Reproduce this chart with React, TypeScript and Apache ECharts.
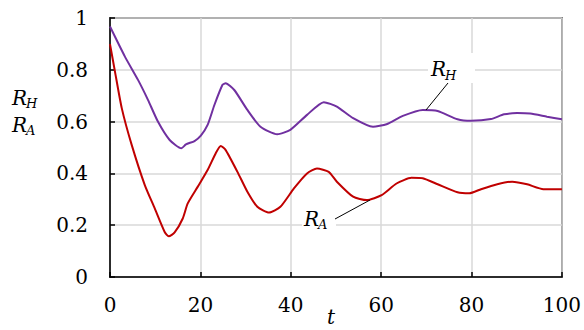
import React, { useEffect, useRef } from "react";
import * as echarts from "echarts";

const tH = [0, 3.3, 6.2, 8.4, 10.6, 13.2, 15.8, 16.8, 18.7, 20.1, 21.6, 23.1, 24.9, 25.6, 27.5, 30.4, 33.3, 37.0, 39.9, 43.6, 47.3, 50.2, 53.8, 58.2, 61.2, 64.8, 69.2, 72.5, 76.9, 79.9, 84.3, 87.2, 90.1, 93, 96.7, 100];
const rH = [0.967, 0.851, 0.761, 0.684, 0.600, 0.529, 0.497, 0.512, 0.525, 0.546, 0.587, 0.664, 0.742, 0.748, 0.722, 0.645, 0.580, 0.551, 0.568, 0.626, 0.675, 0.658, 0.613, 0.580, 0.590, 0.622, 0.645, 0.641, 0.609, 0.603, 0.610, 0.628, 0.633, 0.631, 0.619, 0.609];
const tA = [0, 1.1, 2.6, 4.8, 7.7, 9.9, 12.1, 13.0, 14.3, 16.1, 17.2, 19.4, 21.6, 23.4, 24.5, 25.6, 28.2, 30.4, 32.6, 35.2, 37.7, 40.7, 43.6, 45.8, 48.4, 50.2, 53.8, 56.8, 60.1, 63.4, 66.7, 69.2, 72.5, 76.9, 79.5, 82.1, 85.7, 89, 92.3, 95.9, 100];
const rA = [0.899, 0.793, 0.652, 0.510, 0.355, 0.265, 0.174, 0.157, 0.172, 0.226, 0.284, 0.348, 0.413, 0.478, 0.506, 0.490, 0.406, 0.329, 0.271, 0.249, 0.271, 0.342, 0.400, 0.419, 0.406, 0.368, 0.310, 0.297, 0.316, 0.361, 0.383, 0.381, 0.358, 0.327, 0.323, 0.339, 0.358, 0.368, 0.358, 0.339, 0.339];

const SERIF = "DejaVu Serif";

export default function App() {
  const ref = useRef<HTMLDivElement>(null);
  useEffect(() => {
    if (!ref.current) return;
    const chart = echarts.init(ref.current, undefined, { renderer: "svg" });
    const label = (txt: string, x: number, y: number, size: number) => ({
      type: "text",
      x,
      y,
      z: 100,
      style: {
        text: txt,
        fontFamily: SERIF,
        fontSize: size,
        fontStyle: "italic",
        fill: "#000",
        align: "left",
        verticalAlign: "middle",
      },
    });
    chart.setOption({
      animation: false,
      backgroundColor: "#fff",
      textStyle: { fontFamily: SERIF },
      grid: {
        left: 110,
        right: 19,
        top: 18,
        bottom: 53,
        show: true,
        borderColor: "#000",
        borderWidth: 1.5,
        backgroundColor: "transparent",
      },
      xAxis: {
        type: "value",
        min: 0,
        max: 100,
        interval: 20,
        axisLine: { show: true, lineStyle: { color: "#000", width: 1.5 } },
        axisTick: { show: true, inside: true, length: 5, lineStyle: { color: "#000", width: 1.5 } },
        axisLabel: { color: "#000", fontFamily: SERIF, fontSize: 20, margin: 18 },
        splitLine: { show: true, lineStyle: { color: "#d9d9d9", width: 1.5 } },
      },
      yAxis: {
        type: "value",
        min: 0,
        max: 1,
        interval: 0.2,
        axisLine: { show: true, lineStyle: { color: "#000", width: 1.5 } },
        axisTick: { show: true, inside: true, length: 5, lineStyle: { color: "#000", width: 1.5 } },
        axisLabel: { color: "#000", fontFamily: SERIF, fontSize: 20, margin: 22 },
        splitLine: { show: true, lineStyle: { color: "#d9d9d9", width: 1.5 } },
      },
      series: [
        {
          name: "RH",
          type: "line",
          smooth: 0.2,
          symbol: "none",
          lineStyle: { color: "#7030a0", width: 2 },
          data: tH.map((t, i) => [t, rH[i]]),
        },
        {
          name: "RA",
          type: "line",
          smooth: 0.2,
          symbol: "none",
          lineStyle: { color: "#c00000", width: 2 },
          data: tA.map((t, i) => [t, rA[i]]),
        },
      ],
      graphic: [
        label("R", 12, 98, 20),
        label("H", 26, 103, 13),
        label("R", 12, 125, 20),
        label("A", 26, 130, 13),
        label("t", 327, 317, 20),
        { type: "rect", z: 90, shape: { x: 428, y: 53, width: 47, height: 30 }, style: { fill: "#fff" } },
        label("R", 431, 69, 20),
        label("H", 445, 75, 13),
        { type: "line", z: 100, shape: { x1: 448, y1: 83, x2: 426, y2: 110 }, style: { stroke: "#000", lineWidth: 1 } },
        { type: "rect", z: 90, shape: { x: 302, y: 206, width: 34, height: 26 }, style: { fill: "#fff" } },
        label("R", 304, 219, 20),
        label("A", 318, 224, 13),
        { type: "line", z: 100, shape: { x1: 335, y1: 219, x2: 370, y2: 200 }, style: { stroke: "#000", lineWidth: 1 } },
      ],
    });
    return () => chart.dispose();
  }, []);
  return <div ref={ref} style={{ width: 584, height: 330, position: "absolute", left: 0, top: 0 }} />;
}
